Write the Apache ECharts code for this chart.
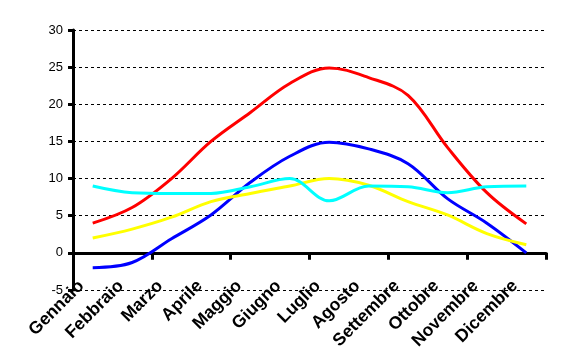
<!DOCTYPE html>
<html>
<head>
<meta charset="utf-8">
<script src="https://cdn.jsdelivr.net/npm/echarts@6/dist/echarts.min.js"></script>
<style>
  html, body { margin: 0; padding: 0; background: #fff; }
</style>
</head>
<body>
<div id="chart" style="width: 563px; height: 362px;"></div>
<script>
// mesi
const months = ['Gennaio', 'Febbraio', 'Marzo', 'Aprile', 'Maggio', 'Giugno',
  'Luglio', 'Agosto', 'Settembre', 'Ottobre', 'Novembre', 'Dicembre'];

// valori
const redValues = [4, 6.1, 10, 15, 18.9, 22.8, 24.9, 23.6, 21.2, 14.2, 8.1, 3.9];
const blueValues = [-2, -1.3, 1.9, 5.1, 9.5, 13, 14.9, 14, 12, 7.3, 4, 0];
const yellowValues = [2, 3.2, 4.8, 6.9, 8, 9, 10, 9.1, 6.9, 5.1, 2.6, 1.1];
const cyanValues = [9, 8.1, 8, 8, 8.9, 10, 7, 9, 8.9, 8.1, 8.9, 9];

const yMin = -5;
const yMax = 30;
const yStep = 5;

const chart = echarts.init(document.getElementById('chart'));

function lineSeries(data, color) {
  return {
    type: 'line',
    xAxisIndex: 0,
    data: data,
    smooth: 0.35,
    symbol: 'none',
    lineStyle: { color: color, width: 3 },
    itemStyle: { color: color }
  };
}

const option = {
  animation: false,
  backgroundColor: '#fff',
  grid: { left: 73, right: 17, top: 30, bottom: 72 },
  xAxis: [
    {
      // linea dello zero con le tacche
      type: 'category',
      data: months,
      position: 'top',
      axisLine: { onZero: true, lineStyle: { color: '#000', width: 3 } },
      axisTick: { show: true, inside: true, length: 7, lineStyle: { color: '#000', width: 3 } },
      axisLabel: { show: false },
      splitLine: { show: false }
    },
    {
      // etichette in basso
      type: 'category',
      data: months,
      position: 'bottom',
      axisLine: { show: false },
      axisTick: { show: false },
      axisLabel: {
        rotate: 45,
        interval: 0,
        margin: -18,
        padding: [0, 16, 0, 0],
        color: '#000',
        fontFamily: 'Liberation Sans, Arial',
        fontWeight: 'bold',
        fontSize: 17.5
      }
    }
  ],
  yAxis: {
    type: 'value',
    min: yMin,
    max: yMax,
    interval: yStep,
    axisLine: { show: true, onZero: false, lineStyle: { color: '#000', width: 3 } },
    axisTick: { show: true, length: 5, lineStyle: { color: '#000', width: 3 } },
    axisLabel: {
      margin: 10,
      color: '#000',
      fontFamily: 'Liberation Sans, Arial',
      fontSize: 13
    },
    splitLine: { show: true, lineStyle: { color: '#000', width: 1, type: [3, 3] } }
  },
  series: [
    lineSeries(redValues, '#ff0000'),
    lineSeries(blueValues, '#0000ff'),
    lineSeries(yellowValues, '#ffff00'),
    lineSeries(cyanValues, '#00ffff')
  ]
};

chart.setOption(option);
</script>
</body>
</html>
